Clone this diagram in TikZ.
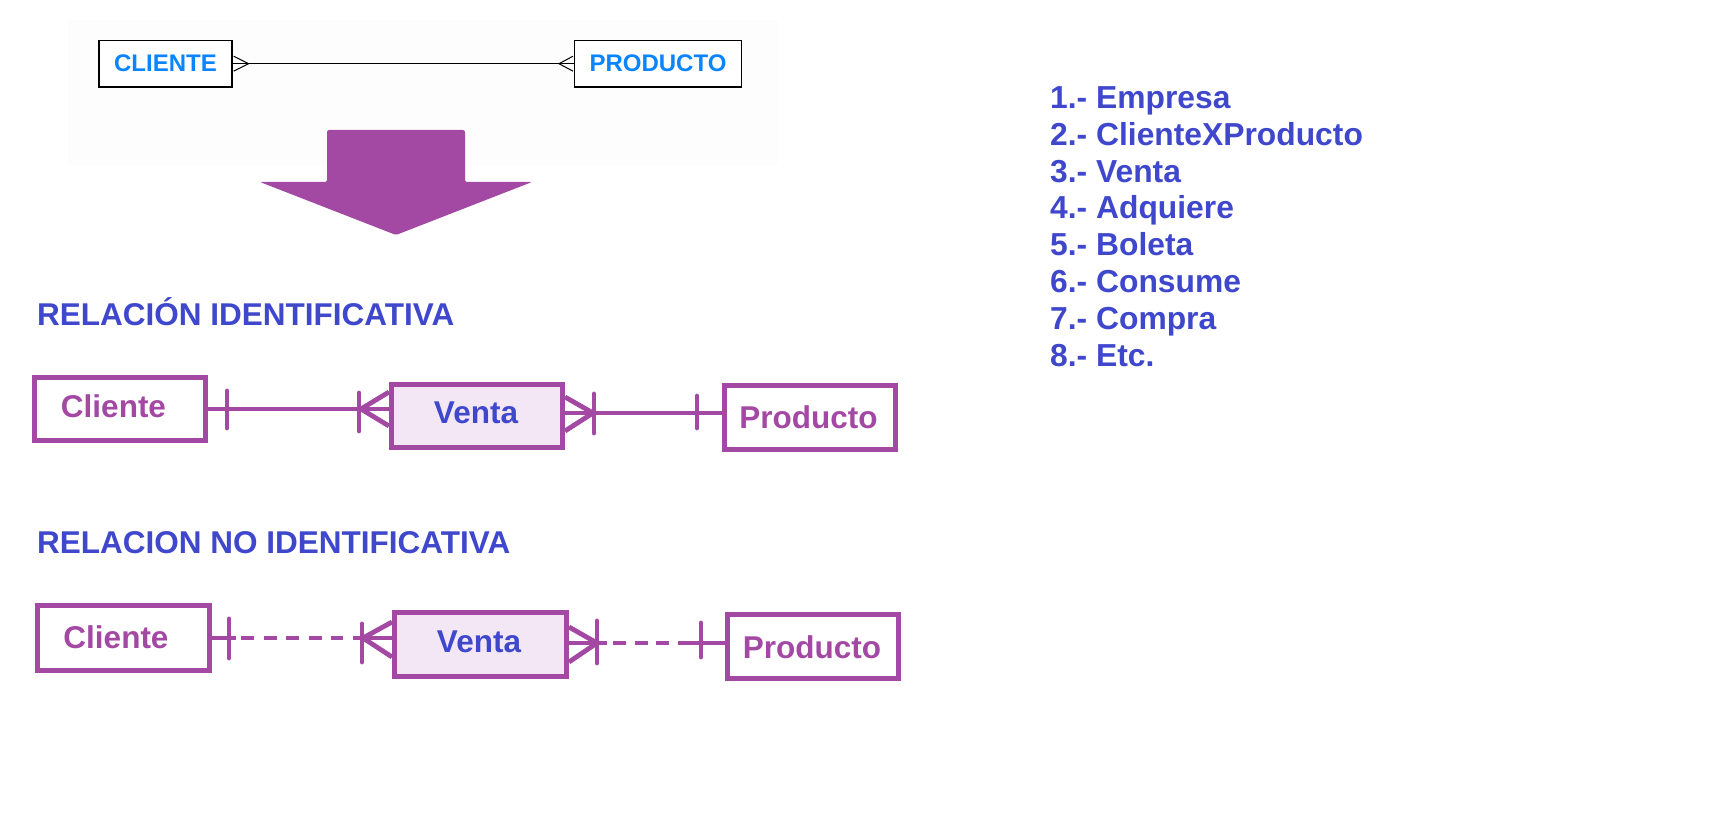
\documentclass[tikz,border=0pt]{standalone}
\usepackage{fontspec}
\setmainfont{Liberation Sans}
\usetikzlibrary{calc}
\definecolor{epurple}{HTML}{A349A4}
\definecolor{eblue}{HTML}{3F48CC}
\definecolor{ecyan}{HTML}{0A84FF}
\definecolor{efill}{HTML}{F3E7F5}
\definecolor{ebg}{HTML}{FDFDFD}
\tikzset{
  bigtxt/.style={font=\fontsize{31.5}{38}\selectfont\bfseries},
  topent/.style={draw=black, fill=white, line width=1.3pt, inner sep=0pt,
    font=\fontsize{24}{28}\selectfont\bfseries, text=ecyan},
  ent/.style={draw=epurple, fill=white, line width=5pt, inner sep=0pt},
  wkent/.style={ent, fill=efill},
  lbl/.style={bigtxt, anchor=base, inner sep=0pt},
  rel/.style={draw=epurple, line width=4.8pt},
  tick/.style={draw=epurple, line width=4.8pt, line cap=round},
  dashrel/.style={rel, dash pattern=on 13pt off 9.5pt},
  thin/.style={draw=black, line width=1pt},
}
\begin{document}
\begin{tikzpicture}[x=1pt,y=-1pt]
\fill[white] (0,0) rectangle (1729,818);
\useasboundingbox (0,0) rectangle (1729,818);

% ---------- top diagram ----------
\fill[ebg] (68,20) rectangle (778,165);
\node[topent, minimum width=133pt, minimum height=46.7pt] (topc) at (165.5,63.7) {CLIENTE};
\node[topent, minimum width=166.7pt, minimum height=46.7pt] (topp) at (658,63.7) {PRODUCTO};
\draw[thin] (topc.east) -- (topp.west);
\draw[thin] ($(topc.east)+(1,-7.5)$) -- ($(topc.east)+(16,0)$) -- ($(topc.east)+(1,7.5)$);
\draw[thin] ($(topp.west)+(-1,-7.5)$) -- ($(topp.west)+(-15,0)$) -- ($(topp.west)+(-1,7.5)$);

% big arrow
\fill[epurple, rounded corners=2pt] (327,130) -- (465,130) -- (465,182) -- (532,182)
  -- (396,235) -- (260,182) -- (327,182) -- cycle;

% ---------- titles ----------
\node[bigtxt, text=eblue, anchor=base west, inner sep=0pt] (title1) at (37,325) {RELACIÓN IDENTIFICATIVA};
\node[bigtxt, text=eblue, anchor=base west, inner sep=0pt] (title2) at (37,553) {RELACION NO IDENTIFICATIVA};

% ---------- list ----------
\foreach \i/\t in {1/Empresa, 2/ClienteXProducto, 3/Venta, 4/Adquiere, 5/Boleta, 6/Consume, 7/Compra, 8/Etc.}{
  \node[font=\fontsize{31.8}{38}\selectfont\bfseries, text=eblue, anchor=base west, inner sep=0pt]
    (item\i) at (1050,{108.3+(\i-1)*36.9}) {\i.- \t};
}

% ---------- row 1: identificativa ----------
\node[ent, minimum width=171pt, minimum height=63pt] (cli1) at (120,409) {};
\node[wkent, minimum width=171pt, minimum height=63pt] (ven1) at (477,416) {};
\node[ent, minimum width=171pt, minimum height=64pt] (pro1) at (810,417.5) {};
\node[lbl, text=epurple] (tcli1) at ($(cli1.center)+(-6.5,8.7)$) {Cliente};
\node[lbl, text=eblue] (tven1) at ($(ven1.center)+(-1,7.3)$) {Venta};
\node[lbl, text=epurple] (tpro1) at ($(pro1.center)+(-1.5,10.5)$) {Producto};

\coordinate (a1) at (cli1.east);
\coordinate (b1) at (ven1.west |- a1);
\draw[rel] (a1) -- (b1);
\draw[tick] ($(a1)+(19,-18)$) -- ($(a1)+(19,19)$);
\draw[tick] ($(b1)+(-30,-16)$) -- ($(b1)+(-30,22)$);
\draw[rel] ($(b1)+(0,-17)$) -- ($(b1)+(-28,0)$) -- ($(b1)+(0,17)$);

\coordinate (c1) at ([yshift=3pt]ven1.east);
\coordinate (d1) at (pro1.west |- c1);
\draw[rel] (c1) -- (d1);
\draw[rel] ($(c1)+(0,-16)$) -- ($(c1)+(28,0)$) -- ($(c1)+(0,18)$);
\draw[tick] ($(c1)+(29,-19)$) -- ($(c1)+(29,20)$);
\draw[tick] ($(d1)+(-25,-17)$) -- ($(d1)+(-25,15)$);

% ---------- row 2: no identificativa ----------
\node[ent, minimum width=172pt, minimum height=65pt] (cli2) at (123.5,638) {};
\node[wkent, minimum width=172pt, minimum height=64pt] (ven2) at (480.5,644.5) {};
\node[ent, minimum width=171pt, minimum height=64pt] (pro2) at (813,646.5) {};
\node[lbl, text=epurple] (tcli2) at ($(cli2.center)+(-7.5,10)$) {Cliente};
\node[lbl, text=eblue] (tven2) at ($(ven2.center)+(-1.5,7.5)$) {Venta};
\node[lbl, text=epurple] (tpro2) at ($(pro2.center)+(-1,11.5)$) {Producto};

\coordinate (a2) at (cli2.east);
\coordinate (b2) at (ven2.west |- a2);
\draw[rel] (a2) -- ($(a2)+(24,0)$);
\draw[dashrel] ($(a2)+(29,0)$) -- ($(b2)+(-49,0)$);
\draw[rel] ($(b2)+(-39,0)$) -- (b2);
\draw[tick] ($(a2)+(17,-19)$) -- ($(a2)+(17,20)$);
\draw[tick] ($(b2)+(-30,-14)$) -- ($(b2)+(-30,24)$);
\draw[rel] ($(b2)+(0,-16)$) -- ($(b2)+(-29,0)$) -- ($(b2)+(0,19)$);

\coordinate (c2) at ([yshift=1.5pt]ven2.east);
\coordinate (d2) at (pro2.west |- c2);
\draw[rel] (c2) -- ($(c2)+(38,0)$);
\draw[rel, dash pattern=on 13pt off 8.5pt] ($(c2)+(44,0)$) -- ($(d2)+(-37,0)$);
\draw[rel] ($(d2)+(-37,0)$) -- (d2);
\draw[rel] ($(c2)+(0,-16)$) -- ($(c2)+(28,0)$) -- ($(c2)+(0,19)$);
\draw[tick] ($(c2)+(28,-22)$) -- ($(c2)+(28,20)$);
\draw[tick] ($(d2)+(-24,-20)$) -- ($(d2)+(-24,14)$);
\end{tikzpicture}
\end{document}
